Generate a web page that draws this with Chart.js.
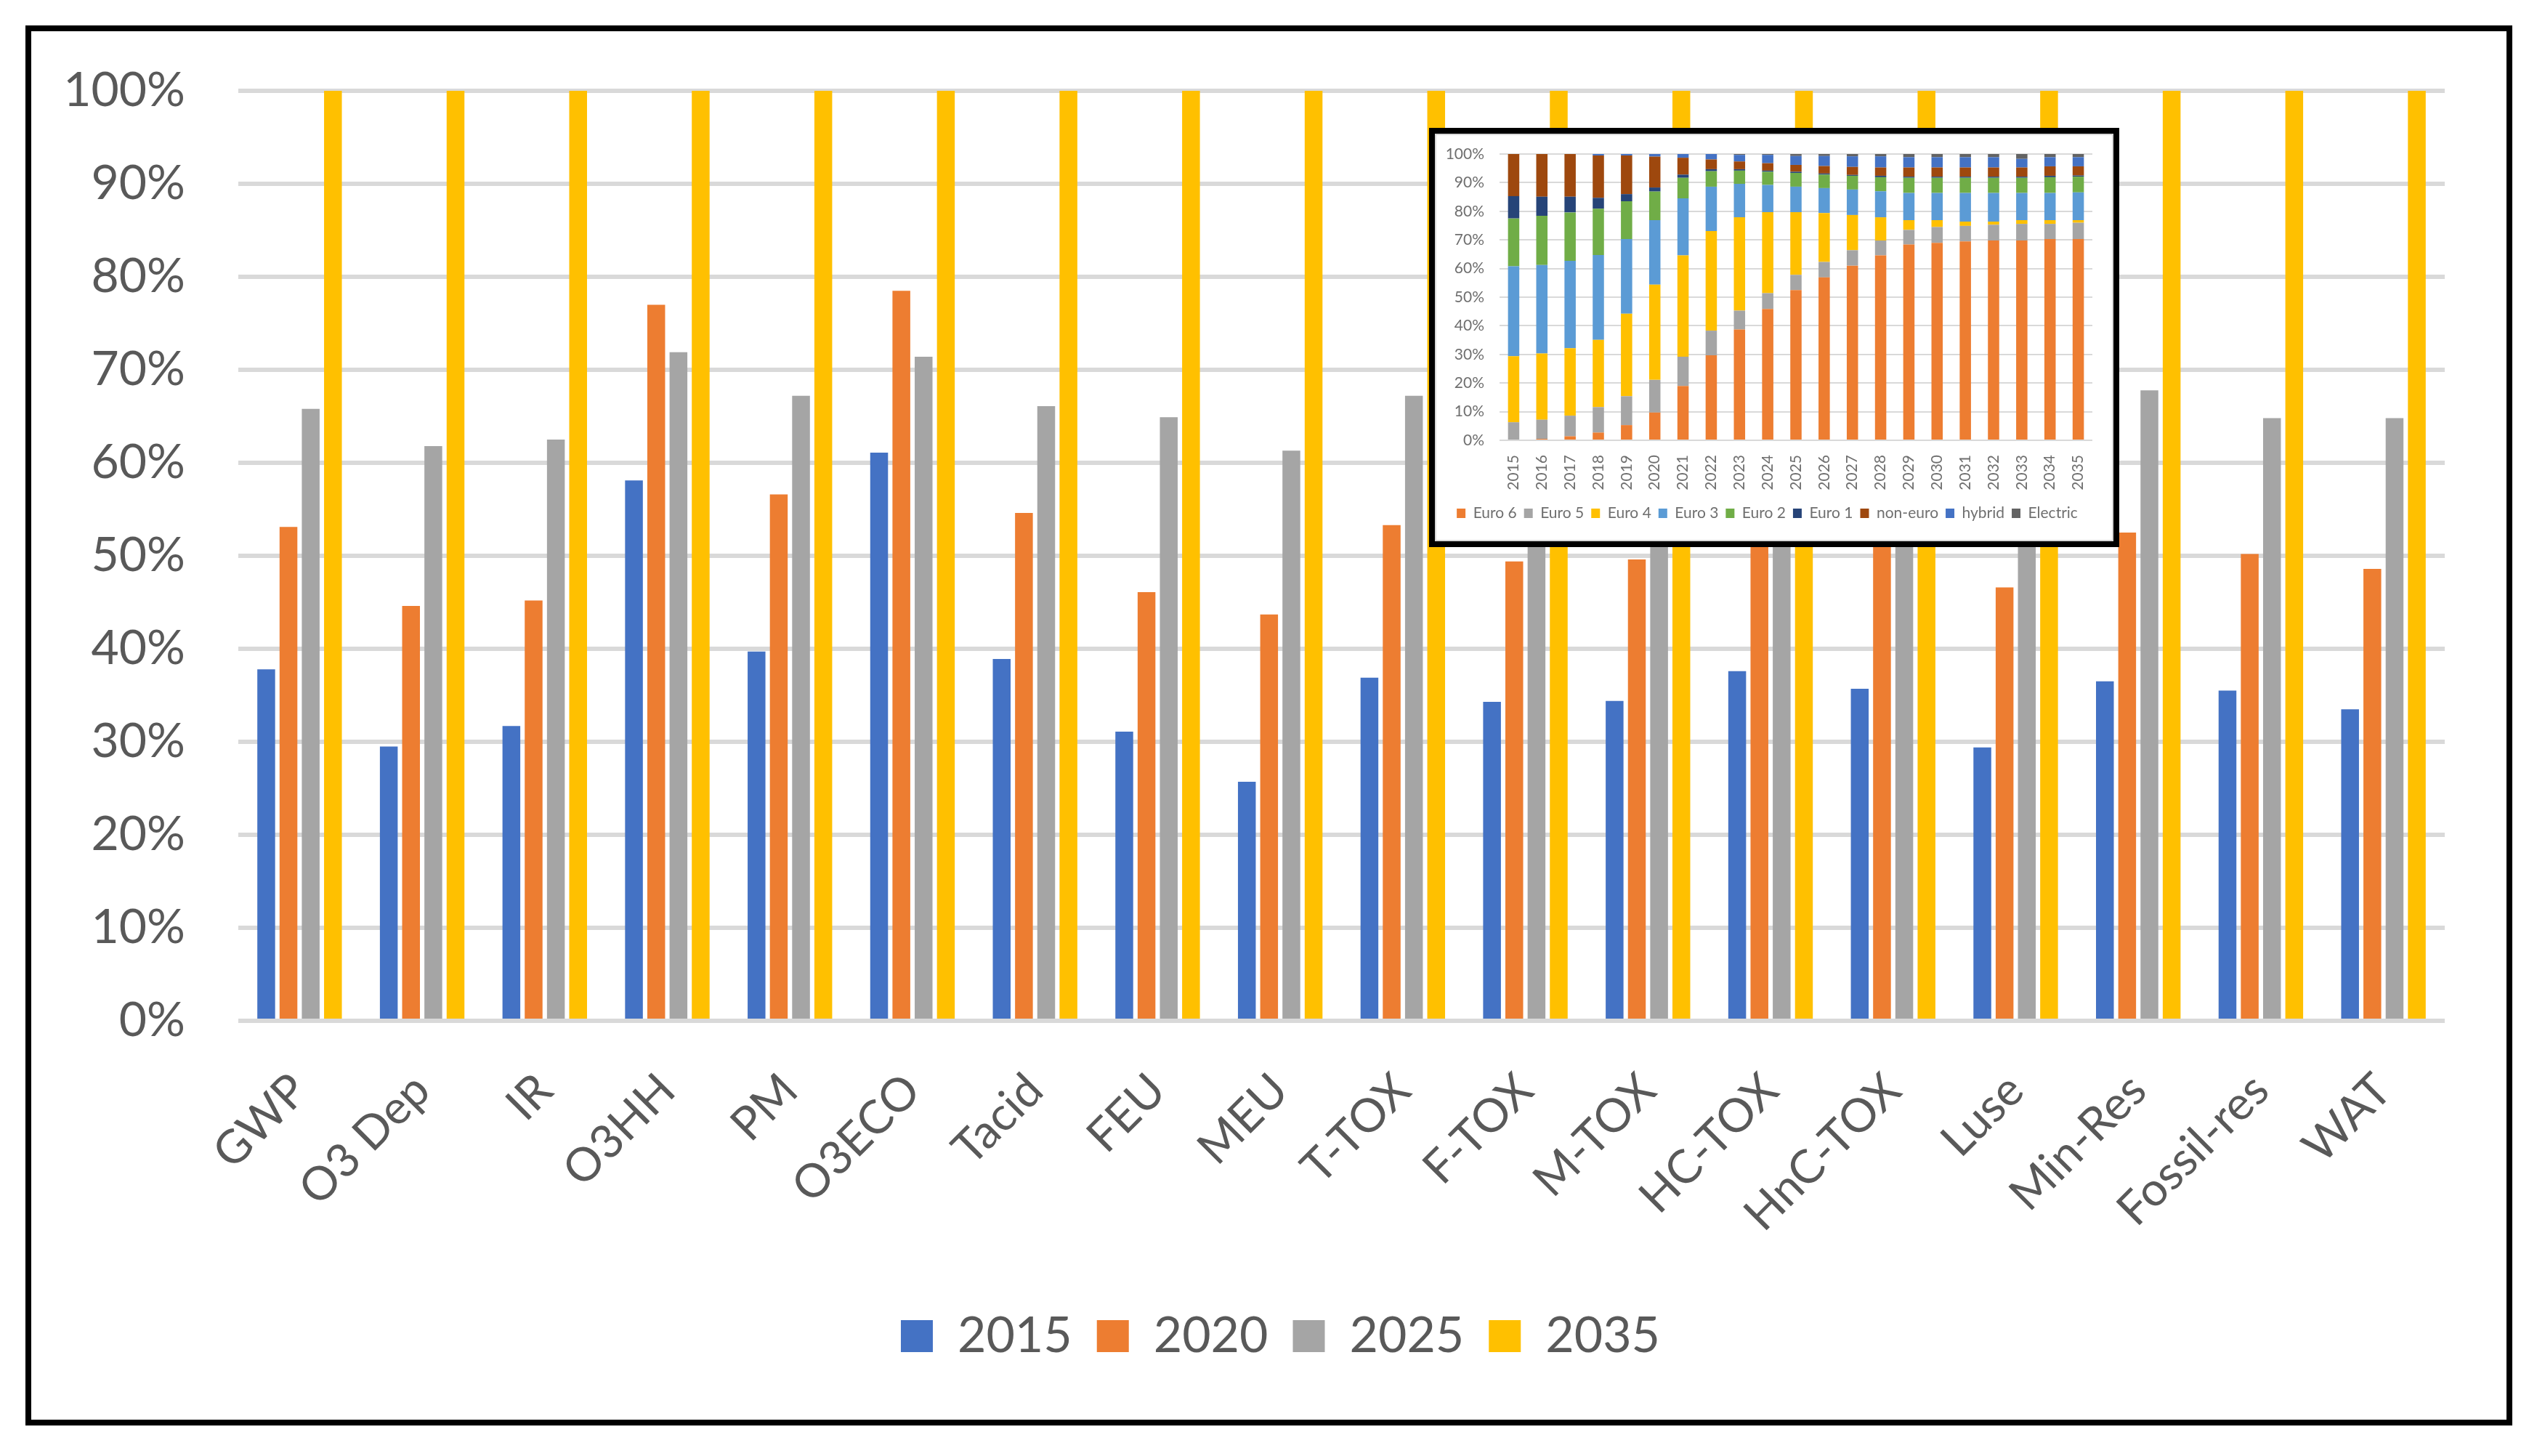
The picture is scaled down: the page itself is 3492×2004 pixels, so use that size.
<!DOCTYPE html>
<html><head><meta charset="utf-8">
<script src="https://cdn.jsdelivr.net/npm/chart.js@4.4.1/dist/chart.umd.min.js"></script>
<style>
html,body{margin:0;padding:0;background:#fff;}
body{width:3492px;height:2004px;position:relative;overflow:hidden;}
#main{position:absolute;left:0;top:0;}
#frame{position:absolute;left:35px;top:35px;width:3423px;height:1927px;border:8px solid #000;box-sizing:border-box;pointer-events:none;}
#insetBox{position:absolute;left:1967px;top:176px;width:950px;height:577px;border:8px solid #000;box-sizing:border-box;background:#fff;}
#inset{position:absolute;left:0;top:0;}
#insetInner{position:absolute;left:0;top:0;width:934px;height:561px;box-sizing:border-box;border:2px solid #d9d9d9;pointer-events:none;}
</style></head>
<body>
<canvas id="main" width="3492" height="2004"></canvas>
<div id="frame"></div>
<div id="insetBox"><canvas id="inset" width="934" height="561"></canvas><div id="insetInner"></div></div>
<script>
// ---- main chart data (percent) ----
const categories = ['GWP','O3 Dep','IR','O3HH','PM','O3ECO','Tacid','FEU','MEU','T-TOX','F-TOX','M-TOX','HC-TOX','HnC-TOX','Luse','Min-Res','Fossil-res','WAT'];
const seriesNames = ['2015','2020','2025','2035'];
const v2015 = [37.8,29.5,31.7,58.1,39.7,61.1,38.9,31.1,25.7,36.9,34.3,34.4,37.6,35.7,29.4,36.5,35.5,33.5];
const v2020 = [53.1,44.6,45.2,77.0,56.6,78.5,54.6,46.1,43.7,53.3,49.4,49.6,55.5,54.0,46.6,52.5,50.2,48.6];
const v2025 = [65.8,61.8,62.5,71.9,67.2,71.4,66.1,64.9,61.3,67.2,64.5,64.0,68.0,66.5,62.5,67.8,64.8,64.8];
const v2035 = [100,100,100,100,100,100,100,100,100,100,100,100,100,100,100,100,100,100];
const yTicksMain = [0,10,20,30,40,50,60,70,80,90,100];

// ---- inset chart data (percent of fleet) ----
const years = ['2015','2016','2017','2018','2019','2020','2021','2022','2023','2024','2025','2026','2027','2028','2029','2030','2031','2032','2033','2034','2035'];
const insetNames = ['Euro 6','Euro 5','Euro 4','Euro 3','Euro 2','Euro 1','non-euro','hybrid','Electric'];
const euro6   = [0,0.5,1.4,2.7,5.3,9.7,19.0,29.7,38.7,45.9,52.5,56.9,61.0,64.6,68.4,69.0,69.5,69.8,69.8,70.3,70.3];
const euro5   = [6.3,6.7,7.2,8.9,10.1,11.4,10.2,8.6,6.6,5.5,5.3,5.4,5.4,5.2,5.1,5.5,5.4,5.5,5.8,5.3,5.7];
const euro4   = [23.1,23.1,23.6,23.5,28.8,33.3,35.4,34.8,32.6,28.3,21.9,17.1,12.3,8.1,3.4,2.4,1.5,1.1,1.3,1.3,0.9];
const euro3   = [31.4,30.9,30.5,29.6,26.1,22.5,19.9,15.5,11.7,9.5,8.9,8.7,8.9,9.1,9.5,9.5,10.0,10.0,9.5,9.5,9.7];
const euro2   = [16.7,17.2,16.9,16.2,13.2,10.0,7.2,5.4,4.6,4.6,4.8,4.7,4.8,4.9,5.3,5.3,5.3,5.3,5.3,5.5,5.5];
const euro1   = [7.8,6.7,5.5,3.8,2.5,1.4,1.1,0.7,0.5,0.4,0.4,0.4,0.3,0.5,0.4,0.4,0.4,0.4,0.4,0.5,0.4];
const nonEuro = [14.7,14.9,14.9,14.8,13.5,10.8,5.9,3.4,2.7,2.6,2.4,2.6,2.8,2.9,3.2,3.2,3.2,3.2,3.2,3.3,3.2];
const hybrid  = [0,0,0,0.5,0.5,0.9,1.3,1.9,2.3,2.9,3.1,3.5,3.7,3.9,3.6,3.6,3.6,3.6,3.0,3.2,3.2];
const electric= [0,0,0,0,0,0,0,0,0.3,0.3,0.7,0.7,0.8,0.8,1.1,1.1,1.1,1.1,1.7,1.1,1.1];

const mainColors = ['#4472C4','#ED7D31','#A5A5A5','#FFC000'];
const insetColors = ['#ED7D31','#A5A5A5','#FFC000','#5B9BD5','#70AD47','#264478','#9E480E','#4472C4','#636363'];
const FONT = 'Lato';

// centre the main legend on the outer frame rather than on the padded canvas
const legendShift = {id:'legendShift', afterLayout(chart){ const l = chart.legend; if (l) { l.left += 60; l.right += 60; } }};

function draw(){
  const mainSeries = [v2015,v2020,v2025,v2035];
  new Chart(document.getElementById('main'), {
    type:'bar',
    data:{labels:categories, datasets: mainSeries.map((d,i)=>({label:seriesNames[i], data:d, backgroundColor:mainColors[i], borderWidth:0}))},
    plugins:[legendShift],
    options:{
      responsive:false, animation:false, devicePixelRatio:1,
      layout:{padding:{left:40,right:127,top:125,bottom:121}},
      datasets:{bar:{categoryPercentage:0.726,barPercentage:0.8}},
      plugins:{
        legend:{position:'bottom',labels:{boxWidth:44,boxHeight:44,padding:34,color:'#595959',font:{family:FONT,size:68}}},
        tooltip:{enabled:false}
      },
      scales:{
        x:{grid:{display:false},border:{display:false},
           ticks:{color:'#595959',font:{family:FONT,size:64},minRotation:45,maxRotation:45,autoSkip:false,padding:50},
           afterFit(s){s.height=366;s.paddingLeft=0;s.paddingRight=0;}},
        y:{min:0,max:100,grid:{color:'#d9d9d9',lineWidth:6,drawTicks:false},border:{display:false},
           afterBuildTicks(s){s.ticks=yTicksMain.map(v=>({value:v}));},
           ticks:{padding:73,color:'#595959',font:{family:FONT,size:66},callback:v=>v+'%'},
           afterFit(s){s.width=288;s.paddingTop=0;s.paddingBottom=0;}}
      }
    }
  });

  const insetSeries = [euro6,euro5,euro4,euro3,euro2,euro1,nonEuro,hybrid,electric];
  new Chart(document.getElementById('inset'), {
    type:'bar',
    data:{labels:years, datasets: insetSeries.map((d,i)=>({label:insetNames[i], data:d, backgroundColor:insetColors[i], borderWidth:0}))},
    options:{
      responsive:false, animation:false, devicePixelRatio:1,
      layout:{padding:{left:10,right:29,top:28,bottom:18}},
      datasets:{bar:{categoryPercentage:1,barPercentage:0.4}},
      plugins:{
        legend:{position:'bottom',labels:{boxWidth:12,boxHeight:13,padding:10,color:'#6f6f6f',font:{family:FONT,size:21}}},
        tooltip:{enabled:false}
      },
      scales:{
        x:{stacked:true,grid:{display:false},border:{display:false},
           ticks:{color:'#6f6f6f',font:{family:FONT,size:21},minRotation:90,maxRotation:90,autoSkip:false,padding:12},
           afterFit(s){s.height=80;s.paddingLeft=0;s.paddingRight=0;}},
        y:{stacked:true,min:0,max:100,grid:{color:'#d9d9d9',lineWidth:2,drawTicks:false},border:{display:false},
           afterBuildTicks(s){s.ticks=yTicksMain.map(v=>({value:v}));},
           ticks:{padding:21,color:'#6f6f6f',font:{family:FONT,size:21},callback:v=>v+'%'},
           afterFit(s){s.width=79;s.paddingTop=0;s.paddingBottom=0;}}
      }
    }
  });
}
Promise.all([document.fonts.load('64px Lato'),document.fonts.load('68px Lato'),document.fonts.load('21px Lato')]).then(draw,draw);
</script>
</body></html>
